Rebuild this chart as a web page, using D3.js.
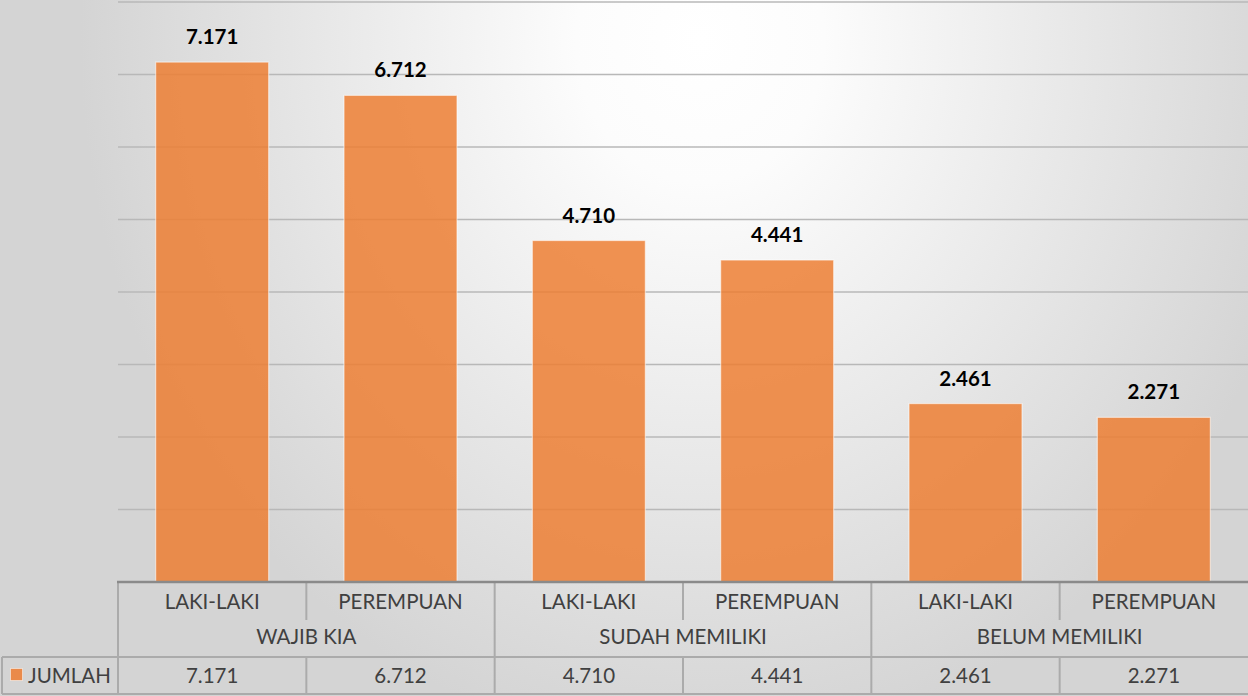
<!DOCTYPE html>
<html>
<head>
<meta charset="utf-8">
<script src="https://cdn.jsdelivr.net/npm/d3@7"></script>
<style>
  html, body { margin: 0; padding: 0; background: #fff; }
  svg { display: block; }
</style>
</head>
<body>
<svg id="chart" width="1248" height="696"></svg>
<script>
// Data: children by KIA status and sex
const groups = ["WAJIB KIA", "SUDAH MEMILIKI", "BELUM MEMILIKI"];
const subCategories = ["LAKI-LAKI", "PEREMPUAN"];
const jumlah = [7171, 6712, 4710, 4441, 2461, 2271];
const seriesName = "JUMLAH";
const yTicks = [0, 1000, 2000, 3000, 4000, 5000, 6000, 7000, 8000];

const W = 1248, H = 696;
const plotLeft = 118, plotRight = 1248, plotTop = 2, plotBottom = 582;
const rowSub = [582, 620], rowGroup = [620, 657], rowVal = [657, 694];

const fmt = v => d3.format(",")(v).replace(/,/g, ".");
const rows = jumlah.map((v, i) => ({
  i, value: v,
  sub: subCategories[i % subCategories.length],
  group: groups[Math.floor(i / subCategories.length)]
}));

const svg = d3.select("#chart");
const defs = svg.append("defs");
const grad = defs.append("radialGradient")
  .attr("id", "bg").attr("gradientUnits", "userSpaceOnUse")
  .attr("cx", 700).attr("cy", 40).attr("r", 620)
  .attr("gradientTransform", "translate(700,40) scale(1,1.15) translate(-700,-40)");
grad.append("stop").attr("offset", 0).attr("stop-color", "#ffffff");
grad.append("stop").attr("offset", 0.2).attr("stop-color", "#fcfcfc");
grad.append("stop").attr("offset", 1).attr("stop-color", "#d4d4d4");

svg.append("rect").attr("width", W).attr("height", H).attr("fill", "url(#bg)");

const x = d3.scaleBand()
  .domain(rows.map(d => d.i))
  .range([plotLeft, plotRight])
  .paddingInner(0.4).paddingOuter(0.2);
const y = d3.scaleLinear().domain([0, 8000]).range([plotBottom, plotTop]);

// gridlines
svg.append("g")
  .selectAll("line").data(yTicks.filter(t => t > 0)).join("line")
  .attr("x1", plotLeft).attr("x2", plotRight)
  .attr("y1", d => y(d)).attr("y2", d => y(d))
  .attr("stroke", "#b8b8b8").attr("stroke-width", 1.4);

// bars
svg.append("g")
  .selectAll("rect").data(rows).join("rect")
  .attr("x", d => x(d.i)).attr("width", x.bandwidth())
  .attr("y", d => y(d.value)).attr("height", d => y(0) - y(d.value))
  .attr("fill", "#ED7D31").attr("fill-opacity", 0.84)
  .attr("stroke", "#ffffff").attr("stroke-opacity", 0.55).attr("stroke-width", 1.2);

// value labels above bars
svg.append("g")
  .selectAll("text").data(rows).join("text")
  .attr("x", d => x(d.i) + x.bandwidth() / 2)
  .attr("y", d => y(d.value) - 18)
  .attr("text-anchor", "middle")
  .attr("font-family", "Lato, 'Open Sans', sans-serif")
  .attr("font-weight", 700).attr("font-size", 20.5)
  .attr("fill", "#000")
  .text(d => fmt(d.value));

// data table below the axis
const step = x.step();
const cellL = i => plotLeft + i * step;
const lines = svg.append("g").attr("stroke", "#ababab").attr("stroke-width", 2);
const hline = (x1, x2, yy) => lines.append("line").attr("x1", x1).attr("x2", x2).attr("y1", yy).attr("y2", yy);
const vline = (xx, y1, y2) => lines.append("line").attr("x1", xx).attr("x2", xx).attr("y1", y1).attr("y2", y2);

hline(2, W, rowVal[0]);
hline(2, W, rowVal[1]);
vline(2, rowVal[0], rowVal[1]);
vline(plotLeft, rowSub[0], rowVal[1]);
rows.forEach((d, i) => {
  if (i === 0) return;
  const xx = cellL(i);
  if (i % subCategories.length === 0) vline(xx, rowSub[0], rowVal[1]);
  else { vline(xx, rowSub[0], rowSub[1]); vline(xx, rowVal[0], rowVal[1]); }
});

// category axis line
svg.append("line")
  .attr("x1", plotLeft - 1).attr("x2", plotRight)
  .attr("y1", plotBottom).attr("y2", plotBottom)
  .attr("stroke", "#8a8a8a").attr("stroke-width", 2.5);

const textStyle = sel => sel
  .attr("font-family", "Lato, 'Open Sans', sans-serif")
  .attr("font-size", 20.5).attr("fill", "#404040");

svg.append("g").selectAll("text").data(rows).join("text")
  .call(textStyle)
  .attr("x", d => x(d.i) + x.bandwidth() / 2).attr("y", 609)
  .attr("text-anchor", "middle").text(d => d.sub);

svg.append("g").selectAll("text").data(groups).join("text")
  .call(textStyle)
  .attr("x", (d, g) => cellL(g * subCategories.length) + step * subCategories.length / 2)
  .attr("y", 644).attr("text-anchor", "middle").text(d => d);

svg.append("g").selectAll("text").data(rows).join("text")
  .call(textStyle)
  .attr("x", d => x(d.i) + x.bandwidth() / 2).attr("y", 683)
  .attr("text-anchor", "middle").text(d => fmt(d.value));

// legend key
svg.append("rect").attr("x", 10.5).attr("y", 668.5).attr("width", 12).attr("height", 12)
  .attr("fill", "#ED7D31").attr("fill-opacity", 0.85)
  .attr("stroke", "#ffffff").attr("stroke-opacity", 0.5);
svg.append("text").call(textStyle)
  .attr("x", 28).attr("y", 683).text(seriesName);
</script>
</body>
</html>
